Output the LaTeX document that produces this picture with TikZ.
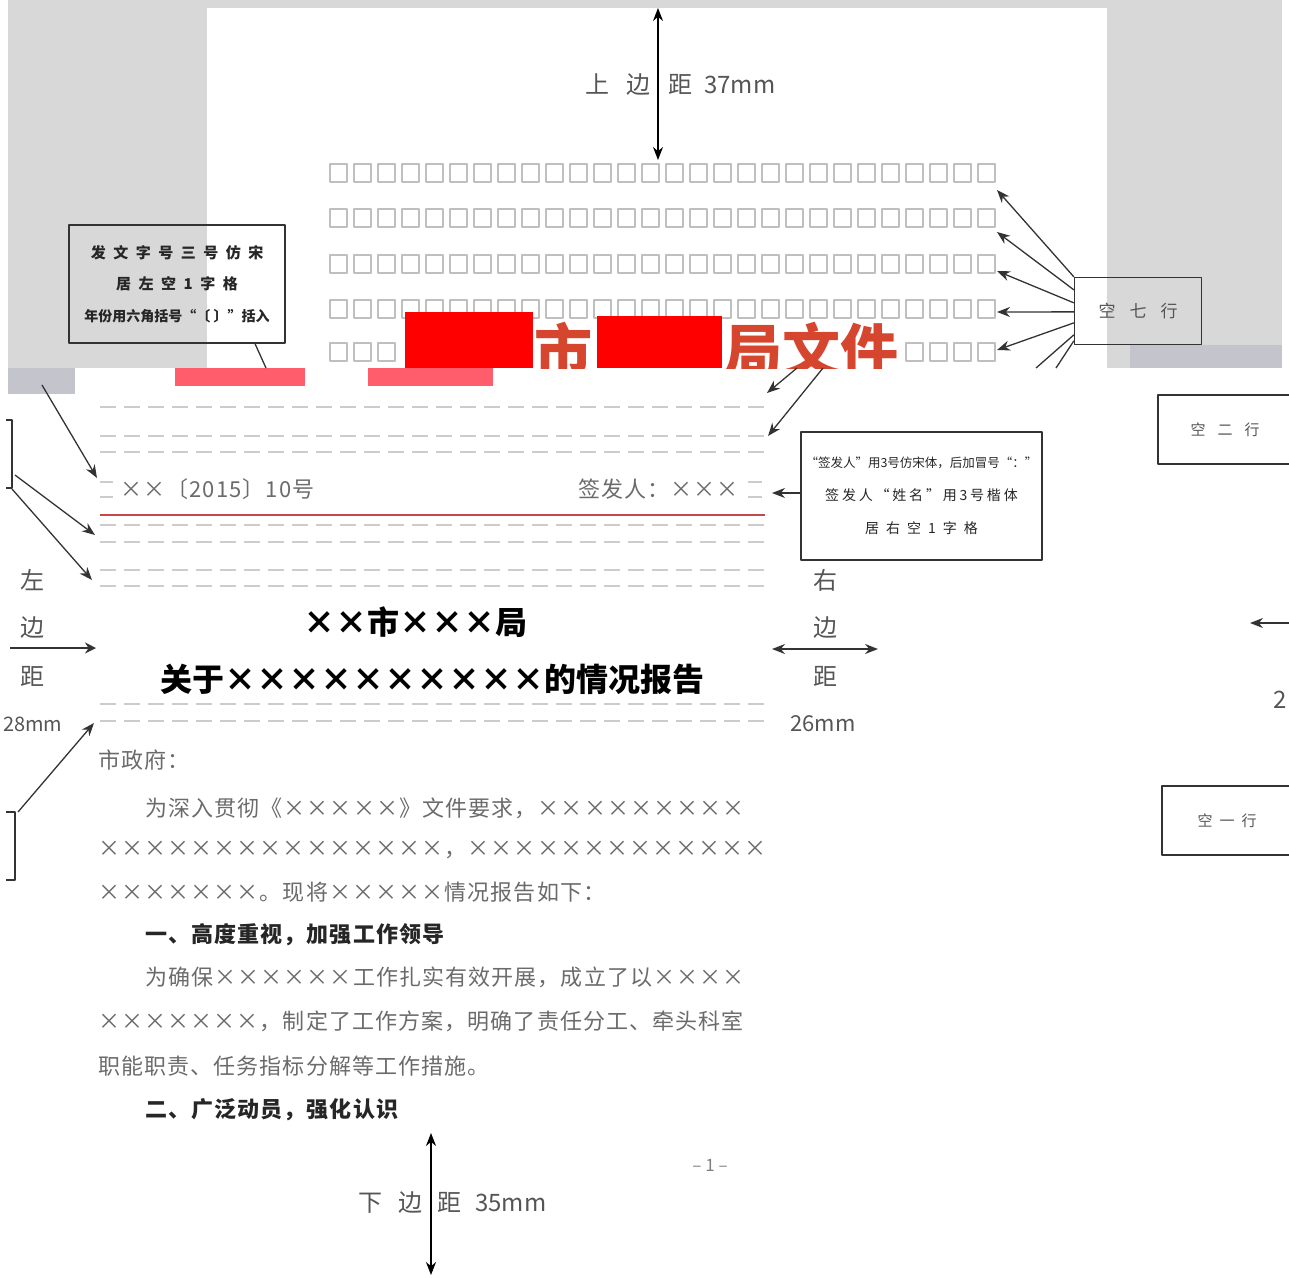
\documentclass[tikz,border=0pt]{standalone}
\usepackage{fontspec}
\newfontfamily\cjk{Noto Sans CJK SC}
\newfontfamily\cjkgrid[LetterSpace=5]{Noto Sans CJK SC}
\newfontfamily\cjkmid[LetterSpace=20]{Noto Sans CJK SC}
\newfontfamily\cjkwide[LetterSpace=50]{Noto Sans CJK SC}
\usetikzlibrary{arrows.meta,positioning}
\definecolor{deskgray}{HTML}{D8D8D8}
\definecolor{mosaic}{HTML}{C4C4CC}
\definecolor{headred}{HTML}{D6452E}
\definecolor{blockred}{HTML}{FF0000}
\definecolor{shred}{HTML}{FF5C6C}
\definecolor{docline}{HTML}{C8474A}
\definecolor{ink}{HTML}{555555}
\tikzset{
  note/.style={draw=black!80, line width=1.3pt, align=center, inner sep=0pt, text=black!85},
  cell/.style={draw=black!25, line width=1.1pt},
  guide/.style={draw=black!20, line width=1.4pt, dash pattern=on 16pt off 8pt},
  pointer/.style={->, draw=black!80, line width=1.3pt},
  leg/.style={draw=black!80, line width=1.3pt},
  gap/.style={anchor=west, inner sep=0pt, text=ink, font=\cjk\fontsize{24}{24}\selectfont},
  body/.style={anchor=west, inner sep=0pt, text=black!58, font=\cjkgrid\fontsize{22}{22}\selectfont},
  heading/.style={anchor=west, inner sep=0pt, text=black!85, font=\cjkgrid\bfseries\fontsize{22}{22}\selectfont},
  headline/.style={inner sep=0pt, text=black, font=\cjk\bfseries\fontsize{32}{32}\selectfont},
}
\begin{document}
\begin{tikzpicture}[x=1pt, y=-1pt, >={Stealth[length=13pt,width=10pt]}, line join=round]
\useasboundingbox (0,0) rectangle (1289,1277);
% desk and upper page
\fill[deskgray] (8,0) rectangle (1282,368);
\fill[white] (207,8) rectangle (1107,368);
% character grid
\foreach \row in {173,218,264,309,352}
  \foreach \i in {0,...,27}
    \draw[cell] ({330+24*\i},\row-9) rectangle +(17,18);
% red title, cut at the seam
\begin{scope}
\clip (207,8) rectangle (1107,368);
\fill[white] (400,328) rectangle (905,368);
\node[anchor=west, inner sep=0pt, text=headred, font=\cjk\bfseries\fontsize{58}{58}\selectfont] (cityword) at (534,350) {市};
\node[anchor=west, inner sep=0pt, text=headred, font=\cjk\bfseries\fontsize{58}{58}\selectfont] (bureauword) at (724,350) {局文件};
\fill[blockred] (405,312) rectangle (533,368);
\fill[blockred] (597,316) rectangle (722,368);
\end{scope}
% seam
\fill[mosaic] (8,368) rectangle (75,394);
\fill[mosaic] (1130,345) rectangle (1282,368);
\fill[shred] (175,368) rectangle (305,386);
\fill[shred] (368,368) rectangle (493,386);
% top margin
\coordinate (pagetop) at (658,8);
\coordinate (gridtop) at (658,160);
\draw[<->, line width=1.3pt] (pagetop) -- (gridtop);
\node[gap] (topgap) at (585,85) {上\hspace{17pt}边\hspace{18pt}距\hspace{12pt}37mm};
% issue number note
\node[note, minimum width=216pt, minimum height=118pt, font=\cjk\bfseries\fontsize{15}{31.5}\selectfont] (issuebox) at (177,284)
  {{\cjkwide 发文字号三号仿宋}\\{\cjkwide 居左空1字格}\\{\fontsize{14}{31.5}\selectfont 年份用六角括号“〔\ 〕”括入}};
\coordinate (issueleg) at (266,368);
\draw[leg] ([xshift=78pt]issuebox.south) -- (issueleg);
% seven blank lines
\node[note, minimum width=127pt, minimum height=67pt, text=ink, font=\cjk\fontsize{17}{17}\selectfont] (sevenbox) at (1138,311) {空\hspace{14pt}七\hspace{14pt}行};
\foreach \r/\ty in {1/190,2/232,3/271,4/312,5/350}
  \coordinate (rowend\r) at (997,\ty);
\foreach \dy/\r in {0/1,-13/2,-26/3,-35/4,-46/5}
  \draw[pointer] ([yshift=\dy pt]sevenbox.north west) -- (rowend\r);
\coordinate (cutA) at (1036,368);
\coordinate (cutB) at (1056,368);
\draw[leg] ([yshift=-58pt]sevenbox.north west) -- (cutA);
\draw[leg] ([yshift=-64pt]sevenbox.north west) -- (cutB);
% lower page: guide lines
\foreach \gy in {407,436,452,525,542,570,586,704,721}
  \draw[guide] (100,\gy) -- (765,\gy);
\foreach \gy in {482,497} {
  \draw[guide] (100,\gy) -- (113,\gy);
  \draw[guide] (748,\gy) -- (762,\gy);
}
\draw[docline, line width=1.2pt] (100,515) -- (765,515);
\coordinate (shiftA) at (797,368);
\coordinate (titlegapA) at (767,393);
\coordinate (shiftB) at (823,368);
\coordinate (titlegapB) at (768,436);
\draw[pointer] (shiftA) -- (titlegapA);
\draw[pointer] (shiftB) -- (titlegapB);
% issue number and signer
\node[body] (docno) at (120,489) {××〔2015〕10号};
\node[body] (signer) at (578,489) {签发人：×××};
\node[note, fill=white, minimum width=241pt, minimum height=128pt, font=\cjk\fontsize{12.5}{33}\selectfont] (signbox) at (921.5,496)
  {“签发人”用3号仿宋体，后加冒号“：”\\{\cjkmid\fontsize{14}{33}\selectfont 签发人“姓名”用3号楷体}\\{\cjkwide\fontsize{14}{33}\selectfont 居右空1字格}};
\coordinate (signtip) at (772,493);
\draw[pointer] ([yshift=3pt]signbox.west) -- (signtip);
% cut notes at left
\draw[leg] (6,420) -- (12,420) -- (12,488) -- (6,488);
\draw[leg] (6,812) -- (15,812) -- (15,880) -- (6,880);
\coordinate (seamL) at (42,385);
\coordinate (docnotip) at (97,478);
\coordinate (stubA) at (15,475);
\coordinate (ruletipA) at (95,535);
\coordinate (stubB) at (12,489);
\coordinate (ruletipB) at (92,580);
\coordinate (stubC) at (18,812);
\coordinate (ruletipC) at (94,723);
\draw[pointer] (seamL) -- (docnotip);
\draw[pointer] (stubA) -- (ruletipA);
\draw[pointer] (stubB) -- (ruletipB);
\draw[pointer] (stubC) -- (ruletipC);
% blank line notes at right
\node[note, minimum width=134pt, minimum height=69pt, text=ink, font=\cjk\fontsize{15}{15}\selectfont] (twobox) at (1225,429.5) {空\hspace{12pt}二\hspace{12pt}行};
\node[note, minimum width=130pt, minimum height=69pt, text=ink, font=\cjk\fontsize{15}{15}\selectfont] (onebox) at (1227,820.5) {空\hspace{7pt}一\hspace{7pt}行};
\coordinate (rightedge) at (1289,623);
\coordinate (righttip) at (1250,623);
\draw[pointer, line width=1.6pt] (rightedge) -- (righttip);
\node[gap, anchor=east] (twocut) at (1287,700) {2};
% side margins
\foreach \ty/\ch in {580/左,628/边,676/距}
  \node[gap, anchor=center] (leftword\ty) at (32,\ty) {\ch};
\node[gap, font=\cjk\fontsize{20}{20}\selectfont] (leftmm) at (3,724) {28mm};
\foreach \ty/\ch in {580/右,628/边,676/距}
  \node[gap, anchor=center] (rightword\ty) at (825,\ty) {\ch};
\node[gap, anchor=center, font=\cjk\fontsize{22}{22}\selectfont] (rightmm) at (823,724) {26mm};
\coordinate (leftedge) at (10,648);
\coordinate (lefttip) at (96,648);
\draw[-{Stealth[length=11pt,width=11pt]}, line width=2.8pt, black!80] (leftedge) -- (lefttip);
\coordinate (rightA) at (772,649);
\coordinate (rightB) at (878,649);
\draw[<->, line width=1.6pt, black!80] (rightA) -- (rightB);
% headline
\node[headline] (orgname) at (415,622) {××市×××局};
\node[headline] (subject) at (432,679) {关于××××××××××的情况报告};
% body text
\node[body] (salute) at (98,760) {市政府：};
\node[body] (paraA) at (145,808) {为深入贯彻《×××××》文件要求，×××××××××};
\node[body] (paraB) at (98,850) {×××××××××××××××，×××××××××××××};
\node[body] (paraC) at (98,892) {×××××××。现将×××××情况报告如下：};
\node[heading] (headA) at (145,935) {一、高度重视，加强工作领导};
\node[body] (paraD) at (145,977) {为确保××××××工作扎实有效开展，成立了以××××};
\node[body] (paraE) at (98,1021) {×××××××，制定了工作方案，明确了责任分工、牵头科室};
\node[body] (paraF) at (98,1066) {职能职责、任务指标分解等工作措施。};
\node[heading] (headB) at (145,1110) {二、广泛动员，强化认识};
% page number and bottom margin
\node[text=black!50, font=\cjk\fontsize{17}{17}\selectfont] (pageno) at (710,1165) {– 1 –};
\coordinate (textfoot) at (431,1133);
\coordinate (pagefoot) at (431,1275);
\draw[<->, line width=1.3pt] (textfoot) -- (pagefoot);
\node[gap] (footgap) at (358,1203) {下\hspace{16pt}边\hspace{15pt}距\hspace{14pt}35mm};
\end{tikzpicture}
\end{document}
